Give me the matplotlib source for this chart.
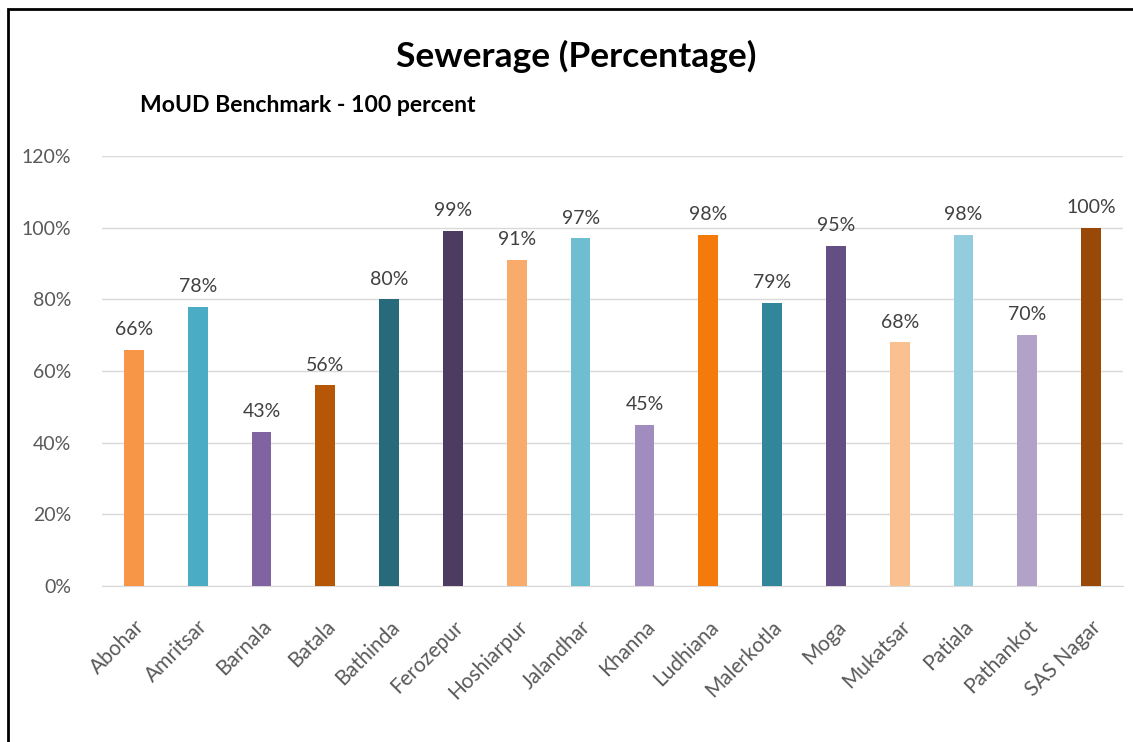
import numpy as np
import matplotlib.pyplot as plt
from matplotlib.patches import Rectangle

# ---- data ----
towns = ["Abohar", "Amritsar", "Barnala", "Batala", "Bathinda", "Ferozepur",
         "Hoshiarpur", "Jalandhar", "Khanna", "Ludhiana", "Malerkotla", "Moga",
         "Mukatsar", "Patiala", "Pathankot", "SAS Nagar"]
sewerage = [66, 78, 43, 56, 80, 99, 91, 97, 45, 98, 79, 95, 68, 98, 70, 100]
bar_colors = ["#F79646", "#4BACC6", "#8064A2", "#B65708", "#276A7C", "#4D3B62",
              "#F9AB6B", "#6FBDD1", "#A08CBF", "#F47A0C", "#31869B", "#644F85",
              "#FAC090", "#93CDDD", "#B3A2C7", "#984807"]
yticks = [0, 20, 40, 60, 80, 100, 120]

plt.rcParams['font.family'] = ['Lato', 'DejaVu Sans']

W, H = 1133, 742
fig = plt.figure(figsize=(W / 100, H / 100), dpi=100)
ax = fig.add_axes([102 / W, 1 - 586 / H, (1123 - 102) / W, (586 - 156) / H])

x = np.arange(len(towns))
ax.bar(x, sewerage, width=0.31, color=bar_colors, zorder=3)

for xi, v in zip(x, sewerage):
    ax.text(xi, v + 3.3, f"{v}%", ha="center", va="bottom",
            fontsize=14, color="#404040", zorder=4)

ax.set_xlim(-0.5, len(towns) - 0.5)
ax.set_ylim(0, 120)
ax.set_yticks(yticks)
ax.set_yticklabels([f"{t}%" for t in yticks], fontsize=14, color="#595959")
ax.yaxis.grid(True, color="#D9D9D9", linewidth=1, zorder=0)
ax.tick_params(axis="y", length=0, pad=22)
ax.tick_params(axis="x", length=0, pad=22)
ax.set_xticks(x)
ax.set_xticklabels(towns, rotation=45, ha="right", rotation_mode="anchor",
                   fontsize=15, color="#595959")
for s in ["top", "right", "left"]:
    ax.spines[s].set_visible(False)
ax.spines["bottom"].set_color("#D9D9D9")

fig.text(576 / W, 1 - 56 / H, "Sewerage (Percentage)", ha="center", va="center",
         fontsize=25.5, fontweight="bold", color="black")
fig.text(140 / W, 1 - 105 / H, "MoUD Benchmark - 100 percent", ha="left", va="center",
         fontsize=16.6, fontweight="bold", color="black")

# chart frame (cut off at right and bottom in the reference)
fig.patches.append(Rectangle((8 / W, -0.1), 1.2, 1 - 9 / H + 0.1,
                             transform=fig.transFigure, fill=False,
                             edgecolor="black", linewidth=2))

fig.savefig("out.png", dpi=100)
